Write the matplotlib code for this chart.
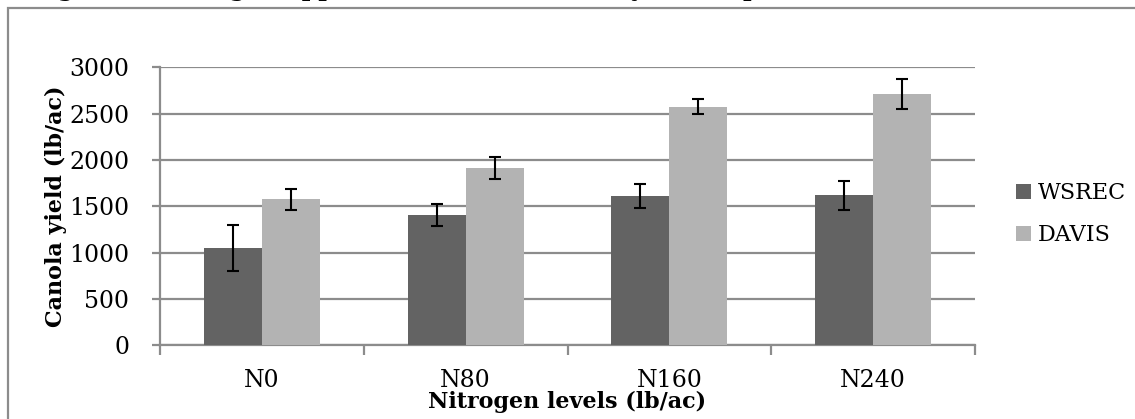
import numpy as np
import matplotlib.pyplot as plt
from matplotlib.patches import Rectangle

# data
levels = ['N0', 'N80', 'N160', 'N240']
wsrec = [1052, 1408, 1610, 1617]
wsrec_err = [247, 120, 133, 155]
davis = [1574, 1912, 2578, 2715]
davis_err = [115, 119, 79, 164]

plt.rcParams['font.family'] = ['DejaVu Serif']

fig = plt.figure(figsize=(11.35, 4.19), dpi=100)
ax = fig.add_axes([160 / 1135, 1 - 345 / 419, 815 / 1135, 277.5 / 419])

# chart-area border (runs off the right/bottom of the crop)
fig.patches.append(Rectangle((8 / 1135, -0.1), 1.2, 1 - 8 / 419 + 0.1,
                             transform=fig.transFigure, fill=False,
                             edgecolor='#8c8c8c', linewidth=1.6, zorder=0))
# title cut off at the top of the crop, only the bottoms show
fig.text(0.515, 1 + 4 / 419, 'Figure 1. Nitrogen applied to canola and the yield response at the WSREC location.',
         ha='center', va='baseline', fontsize=17, fontweight='bold', color='black')

x = np.arange(len(levels))
w = 0.285
ekw = dict(ecolor='black', elinewidth=1.5, capsize=4, capthick=1.5)
ax.bar(x - w / 2, wsrec, w, color='#636363', yerr=wsrec_err, error_kw=ekw, label='WSREC', zorder=3)
ax.bar(x + w / 2, davis, w, color='#b3b3b3', yerr=davis_err, error_kw=ekw, label='DAVIS', zorder=3)

ax.set_xlim(-0.5, len(levels) - 0.5)
ax.set_ylim(0, 3000)
ax.set_yticks(np.arange(0, 3001, 500))
ax.yaxis.grid(True, color='#8c8c8c', linewidth=1.6, zorder=0)
ax.set_axisbelow(True)

ax.set_xticks(x)
ax.set_xticklabels(levels, fontsize=17)
ax.set_xticks(np.arange(-0.5, len(levels)), minor=True)
ax.tick_params(axis='x', which='major', length=0, pad=17)
ax.tick_params(axis='x', which='minor', length=7, width=1.6, color='#8c8c8c', direction='out')
ax.tick_params(axis='y', length=6, width=1.6, color='#8c8c8c', labelsize=17, pad=16)

for s in ['top', 'right']:
    ax.spines[s].set_visible(False)
for s in ['left', 'bottom']:
    ax.spines[s].set_color('#8c8c8c')
    ax.spines[s].set_linewidth(1.6)

ax.set_ylabel('Canola yield (lb/ac)', fontsize=16, fontweight='bold')
ax.yaxis.set_label_coords(-0.114, 0.5)
ax.set_xlabel('Nitrogen levels (lb/ac)', fontsize=16, fontweight='bold')
ax.xaxis.set_label_coords(0.5, -0.166)

ax.legend(loc='center left', bbox_to_anchor=(1.05, 0.471), borderaxespad=0, borderpad=0,
          frameon=False, fontsize=16, handlelength=0.7, handleheight=0.7,
          handletextpad=0.3, labelspacing=0.9)

fig.savefig('out.png', dpi=100)
